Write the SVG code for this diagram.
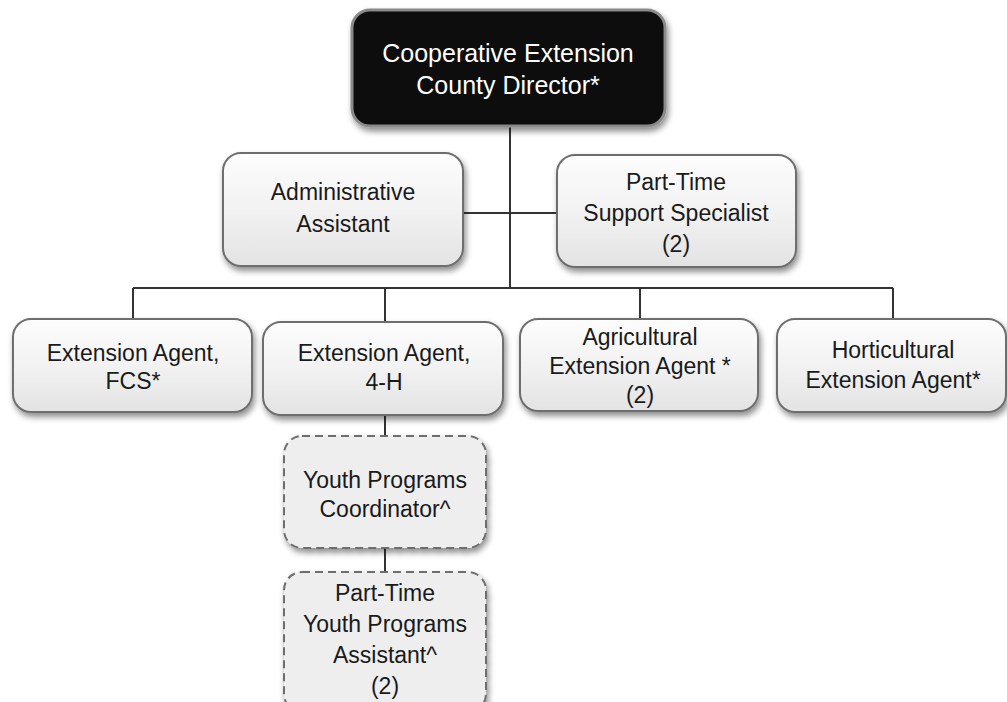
<svg xmlns="http://www.w3.org/2000/svg" width="1007" height="702" viewBox="0 0 1007 702">
  <defs>
    <linearGradient id="gLight" x1="0" y1="0" x2="0" y2="1">
      <stop offset="0" stop-color="#fdfdfd"/>
      <stop offset="0.5" stop-color="#f2f2f2"/>
      <stop offset="1" stop-color="#e3e3e3"/>
    </linearGradient>
    <filter id="shadow" x="-10%" y="-10%" width="125%" height="135%">
      <feGaussianBlur in="SourceAlpha" stdDeviation="3"/>
      <feOffset dx="2" dy="4" result="b"/>
      <feComponentTransfer><feFuncA type="linear" slope="0.45"/></feComponentTransfer>
      <feMerge><feMergeNode/><feMergeNode in="SourceGraphic"/></feMerge>
    </filter>
  </defs>
  <style>
    .box { fill: url(#gLight); stroke: #6e6e6e; stroke-width: 2; filter: url(#shadow); }
    .dash { fill: #eeeeee; stroke: #6e6e6e; stroke-width: 2; stroke-dasharray: 8 5; filter: url(#shadow); }
    .dark { fill: #0b0b0b; stroke: #8a8a8a; stroke-width: 3; filter: url(#shadow); }
    .t { font-family: "Liberation Sans", Arial, sans-serif; font-size: 23px; fill: #1a1a1a; text-anchor: middle; }
    .tw { font-family: "Liberation Sans", Arial, sans-serif; font-size: 25px; fill: #ffffff; text-anchor: middle; }
    .ln { stroke: #333333; stroke-width: 2; fill: none; }
  </style>

  <rect width="1007" height="702" fill="#ffffff"/>

  <!-- connectors -->
  <g id="connectors">
    <line class="ln" x1="510" y1="126" x2="510" y2="288"/>
    <line class="ln" x1="463" y1="213" x2="557" y2="213"/>
    <line class="ln" x1="133" y1="288" x2="893" y2="288"/>
    <line class="ln" x1="133" y1="288" x2="133" y2="319"/>
    <line class="ln" x1="385" y1="288" x2="385" y2="322"/>
    <line class="ln" x1="640" y1="288" x2="640" y2="319"/>
    <line class="ln" x1="893" y1="288" x2="893" y2="319"/>
    <line class="ln" x1="385" y1="415" x2="385" y2="436"/>
    <line class="ln" x1="385" y1="548" x2="385" y2="572"/>
  </g>

  <g id="director">
    <rect class="dark" x="352" y="10" width="313" height="116" rx="18"/>
    <text class="tw" x="508" y="62">Cooperative Extension</text>
    <text class="tw" x="508" y="94">County Director*</text>
  </g>

  <g id="admin-assistant">
    <rect class="box" x="223" y="153" width="240" height="113" rx="18"/>
    <text class="t" x="343" y="200">Administrative</text>
    <text class="t" x="343" y="232">Assistant</text>
  </g>

  <g id="support-specialist">
    <rect class="box" x="557" y="155" width="239" height="112" rx="18"/>
    <text class="t" x="676" y="190">Part-Time</text>
    <text class="t" x="676" y="221">Support Specialist</text>
    <text class="t" x="676" y="252">(2)</text>
  </g>

  <g id="agent-fcs">
    <rect class="box" x="13" y="319" width="239" height="93" rx="18"/>
    <text class="t" x="133" y="361">Extension Agent,</text>
    <text class="t" x="133" y="389">FCS*</text>
  </g>

  <g id="agent-4h">
    <rect class="box" x="263" y="322" width="240" height="93" rx="18"/>
    <text class="t" x="384" y="361">Extension Agent,</text>
    <text class="t" x="384" y="390">4-H</text>
  </g>

  <g id="agricultural-agent">
    <rect class="box" x="520" y="319" width="238" height="92" rx="18"/>
    <text class="t" x="640" y="345">Agricultural</text>
    <text class="t" x="640" y="374">Extension Agent *</text>
    <text class="t" x="640" y="403">(2)</text>
  </g>

  <g id="horticultural-agent">
    <rect class="box" x="777" y="319" width="229" height="93" rx="18"/>
    <text class="t" x="893" y="358">Horticultural</text>
    <text class="t" x="893" y="388">Extension Agent*</text>
  </g>

  <g id="youth-coordinator">
    <rect class="dash" x="284" y="436" width="202" height="112" rx="18"/>
    <text class="t" x="385" y="488">Youth Programs</text>
    <text class="t" x="385" y="517">Coordinator^</text>
  </g>

  <g id="youth-assistant">
    <rect class="dash" x="284" y="572" width="202" height="140" rx="18"/>
    <text class="t" x="385" y="601">Part-Time</text>
    <text class="t" x="385" y="632">Youth Programs</text>
    <text class="t" x="385" y="663">Assistant^</text>
    <text class="t" x="385" y="694">(2)</text>
  </g>
</svg>
